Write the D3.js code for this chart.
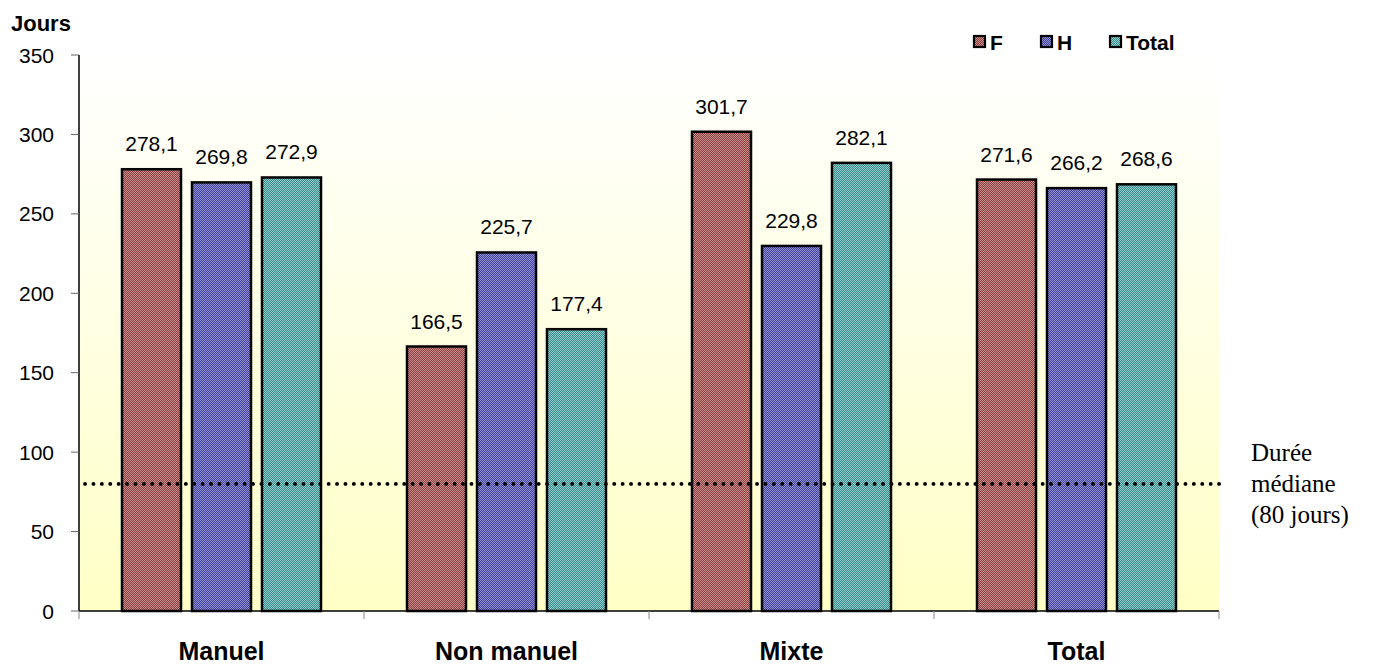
<!DOCTYPE html>
<html><head><meta charset="utf-8">
<script src="https://cdn.jsdelivr.net/npm/d3@7/dist/d3.min.js"></script>
<style>body{margin:0;background:#fff}svg{display:block}</style>
</head><body>
<svg id="c" width="1374" height="664"></svg>
<script>
const categories = ["Manuel", "Non manuel", "Mixte", "Total"];
const seriesNames = ["F", "H", "Total"];
const valuesF = [278.1, 166.5, 301.7, 271.6];
const valuesH = [269.8, 225.7, 229.8, 266.2];
const valuesTotal = [272.9, 177.4, 282.1, 268.6];
const yTicks = [0, 50, 100, 150, 200, 250, 300, 350];
const medianValue = 80;
const medianLabel = ["Durée", "médiane", "(80 jours)"];
const yTitle = "Jours";

const series = [valuesF, valuesH, valuesTotal];
const colors = [
  {dark: "#8c4040", light: "#c88c8c"},
  {dark: "#42429a", light: "#9090d2"},
  {dark: "#3a8c8c", light: "#90cccc"}
];

const svg = d3.select("#c");
const L = 79, R = 1219, T = 55, B = 611;
const x = d3.scaleBand().domain(categories).range([L, R]).paddingInner(0).paddingOuter(0);
const xs = d3.scaleBand().domain(seriesNames).range([0, 199]).paddingInner(11/70).paddingOuter(0);
const y = d3.scaleLinear().domain([0, 350]).range([B, T]);
const SANS = "Liberation Sans, Arial, sans-serif";

const defs = svg.append("defs");
const grad = defs.append("linearGradient").attr("id", "bg").attr("x1", 0).attr("y1", 0).attr("x2", 0).attr("y2", 1);
grad.append("stop").attr("offset", "0%").attr("stop-color", "#ffffff");
grad.append("stop").attr("offset", "100%").attr("stop-color", "#ffffc6");
colors.forEach((c, i) => {
  const p = defs.append("pattern").attr("id", "pat" + i).attr("width", 2).attr("height", 2).attr("patternUnits", "userSpaceOnUse");
  p.append("rect").attr("width", 2).attr("height", 2).attr("fill", c.dark);
  p.append("rect").attr("x", 0).attr("y", 0).attr("width", 1).attr("height", 1).attr("fill", c.light);
  p.append("rect").attr("x", 1).attr("y", 1).attr("width", 1).attr("height", 1).attr("fill", c.light);
});

svg.append("rect").attr("x", L).attr("y", T).attr("width", R - L).attr("height", B - T).attr("fill", "url(#bg)");

// y axis
const yAxis = svg.append("g");
yAxis.append("line").attr("x1", L).attr("x2", L).attr("y1", T).attr("y2", B).attr("stroke", "#000").attr("stroke-width", 1.5);
yTicks.forEach(t => {
  yAxis.append("line").attr("x1", L - 8).attr("x2", L).attr("y1", y(t)).attr("y2", y(t)).attr("stroke", "#666").attr("stroke-width", 1);
  yAxis.append("text").attr("x", 54).attr("y", y(t)).attr("dy", "0.36em").attr("text-anchor", "end")
    .attr("font-family", SANS).attr("font-size", 21).text(t);
});
svg.append("text").attr("x", 11).attr("y", 31).attr("font-family", SANS)
  .attr("font-weight", "bold").attr("font-size", 22).text(yTitle);

// x axis
svg.append("line").attr("x1", L).attr("x2", R).attr("y1", B).attr("y2", B).attr("stroke", "#000").attr("stroke-width", 1.5);
const bounds = categories.map(c => x(c)).concat([R]);
bounds.forEach(b => {
  svg.append("line").attr("x1", b).attr("x2", b).attr("y1", B).attr("y2", B + 8).attr("stroke", "#888").attr("stroke-width", 1);
});
categories.forEach(c => {
  svg.append("text").attr("x", x(c) + x.bandwidth() / 2).attr("y", 660).attr("text-anchor", "middle")
    .attr("font-family", SANS).attr("font-weight", "bold").attr("font-size", 25).text(c);
});

// bars
const gx0 = (x.bandwidth() - 199) / 2;
series.forEach((vals, si) => {
  const g = svg.append("g");
  categories.forEach((c, ci) => {
    const bx = x(c) + gx0 + xs(seriesNames[si]);
    const v = vals[ci];
    g.append("rect").attr("x", bx).attr("y", y(v)).attr("width", xs.bandwidth()).attr("height", B - y(v))
      .attr("fill", "url(#pat" + si + ")").attr("stroke", "#000").attr("stroke-width", 2.5);
    g.append("text").attr("x", bx + xs.bandwidth() / 2).attr("y", y(v) - 18).attr("text-anchor", "middle")
      .attr("font-family", SANS).attr("font-size", 21)
      .text(v.toFixed(1).replace(".", ","));
  });
});

// median line
svg.append("line").attr("x1", L + 6).attr("x2", 1226).attr("y1", y(medianValue)).attr("y2", y(medianValue))
  .attr("stroke", "#000").attr("stroke-width", 3.8).attr("stroke-dasharray", "0.1 8.3").attr("stroke-linecap", "round");
medianLabel.forEach((t, i) => {
  svg.append("text").attr("x", 1251).attr("y", 461 + i * 31).attr("font-family", "Liberation Serif, Times New Roman, serif")
    .attr("font-size", 25).text(t);
});

// legend
const legX = [973, 1040, 1109];
seriesNames.forEach((n, i) => {
  svg.append("rect").attr("x", legX[i] + 1).attr("y", 36).attr("width", 11).attr("height", 11)
    .attr("fill", "url(#pat" + i + ")").attr("stroke", "#000").attr("stroke-width", 2.2);
  svg.append("text").attr("x", legX[i] + 17).attr("y", 49.5).attr("font-family", SANS)
    .attr("font-weight", "bold").attr("font-size", 21).text(n);
});
</script>
</body></html>
